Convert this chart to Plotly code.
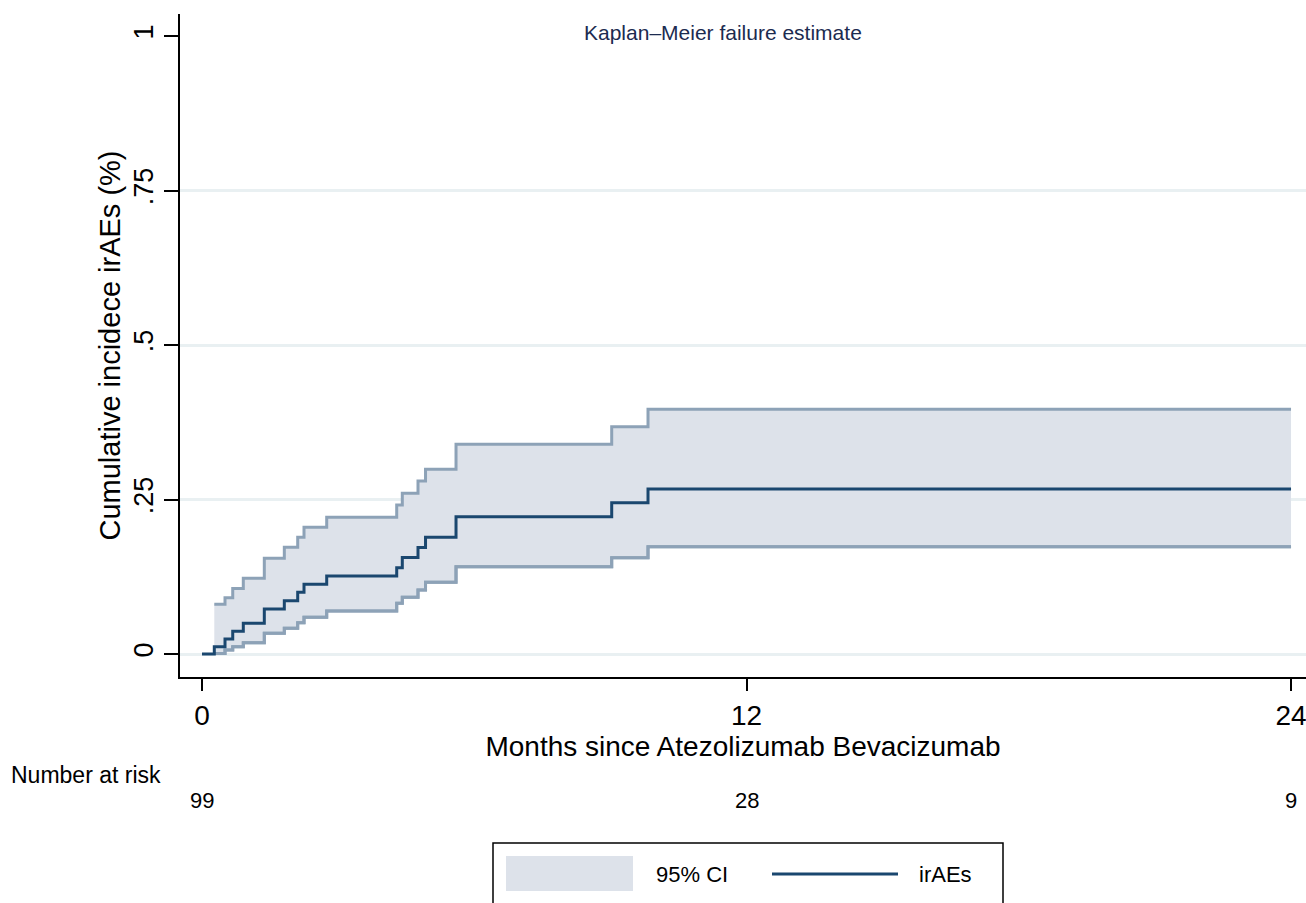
import plotly.graph_objects as go

# ---- data ----
months = [0, 0.271, 0.507, 0.677, 0.910, 1.373, 1.814, 2.109, 2.248, 2.748,
          4.291, 4.414, 4.760, 4.926, 5.598, 9.029, 9.829, 24]
failure = [0, 0.0118, 0.0243, 0.0367, 0.0497, 0.0728, 0.0862, 0.0998, 0.1128,
           0.1262, 0.1396, 0.1561, 0.1723, 0.1888, 0.2222, 0.2448, 0.2670, 0.2670]
ci_months = months[1:]
ci_upper = [0.0804, 0.091, 0.106, 0.1225, 0.1549, 0.1726, 0.1888, 0.205, 0.2212,
            0.2411, 0.26, 0.28, 0.2989, 0.3393, 0.3678, 0.396, 0.396]
ci_lower = [0.001, 0.0065, 0.0118, 0.0183, 0.0335, 0.0416, 0.0507, 0.0594, 0.0696,
            0.082, 0.0917, 0.1036, 0.116, 0.1413, 0.1559, 0.1737, 0.1737]
x_ticks = [0, 12, 24]
y_ticks = [0, 0.25, 0.5, 0.75, 1]
y_tick_text = ["0", ".25", ".5", ".75", "1"]
grid_vals = [0, 0.25, 0.5, 0.75]
risk_months = [0, 12, 24]
risk_counts = [99, 28, 9]

MEAN_C = "#1a476f"
CI_LINE_C = "#8da2b7"
CI_FILL_C = "#dde2ea"
FONT = "Liberation Sans, Arial, sans-serif"

W, H = 1306, 903
L, R, T, B = 180, 0, 14, 226
PW, PH = W - L - R, H - T - B


def px(x):
    return (x - L) / PW


def py(y):
    return (H - B - y) / PH


fig = go.Figure()

# CI band
fig.add_trace(go.Scatter(x=ci_months, y=ci_lower, mode="lines", line_shape="hv",
                         line=dict(color=CI_LINE_C, width=3), showlegend=False,
                         hoverinfo="skip"))
fig.add_trace(go.Scatter(x=ci_months, y=ci_upper, mode="lines", line_shape="hv",
                         fill="tonexty", fillcolor=CI_FILL_C,
                         line=dict(color=CI_LINE_C, width=3), showlegend=False,
                         hoverinfo="skip"))
fig.add_trace(go.Scatter(x=ci_months, y=ci_lower, mode="lines", line_shape="hv",
                         line=dict(color=CI_LINE_C, width=3), showlegend=False,
                         hoverinfo="skip"))
# KM failure curve
fig.add_trace(go.Scatter(x=months, y=failure, mode="lines", line_shape="hv",
                         line=dict(color=MEAN_C, width=3), showlegend=False,
                         name="irAEs"))

fig.update_layout(
    width=W, height=H,
    margin=dict(l=L, r=R, t=T, b=B),
    paper_bgcolor="white", plot_bgcolor="white",
    font=dict(family=FONT, color="black"),
    xaxis=dict(range=[-0.485, 24.33], tickvals=x_ticks,
               ticktext=[str(v) for v in x_ticks],
               showgrid=False, zeroline=False, showline=True,
               linecolor="black", linewidth=2,
               ticks="outside", ticklen=12, tickwidth=2, tickcolor="black",
               tickfont=dict(size=28), ticklabeloverflow="allow",
               title=dict(text="Months since Atezolizumab Bevacizumab",
                          font=dict(size=28), standoff=0)),
    yaxis=dict(range=[-0.0372, 1.0356], tickvals=y_ticks, ticktext=y_tick_text,
               tickangle=-90, showgrid=False, zeroline=False, showline=True,
               linecolor="black", linewidth=2,
               ticks="outside", ticklen=14, tickwidth=2, tickcolor="black",
               tickfont=dict(size=27), ticklabeloverflow="allow",
               title=dict(text="Cumulative incidece irAEs (%)",
                          font=dict(size=29), standoff=0)),
    yaxis2=dict(range=[-0.0372, 1.0356], overlaying="y", tickvals=grid_vals,
                showgrid=True, gridcolor="#e9f0f2", gridwidth=3,
                showticklabels=False, zeroline=False, showline=False,
                layer="below traces"),
)

fig.add_trace(go.Scatter(x=[0], y=[0], yaxis="y2", mode="markers",
                         marker=dict(opacity=0), showlegend=False, hoverinfo="skip"))

ann = []
ann.append(dict(text="Kaplan\u2013Meier failure estimate", x=px(723), y=py(32),
                xref="paper", yref="paper", yanchor="middle", showarrow=False,
                font=dict(size=21, color="#1c2b50")))
ann.append(dict(text="Number at risk", x=px(9), y=py(775), xref="paper", yref="paper",
                xanchor="left", yanchor="middle", showarrow=False, font=dict(size=23)))
for m, c in zip(risk_months, risk_counts):
    ann.append(dict(text=str(c), x=m, y=py(800), xref="x", yref="paper",
                    yanchor="middle", showarrow=False, font=dict(size=22)))
ann.append(dict(text="95% CI", x=px(654), y=py(874), xref="paper", yref="paper",
                xanchor="left", yanchor="middle", showarrow=False, font=dict(size=22)))
ann.append(dict(text="irAEs", x=px(917), y=py(874), xref="paper", yref="paper",
                xanchor="left", yanchor="middle", showarrow=False, font=dict(size=22)))
fig.update_layout(annotations=ann)

shapes = [
    dict(type="rect", xref="paper", yref="paper", x0=px(493), x1=px(1003),
         y0=py(843), y1=py(910), line=dict(color="black", width=1.5),
         fillcolor="rgba(0,0,0,0)"),
    dict(type="rect", xref="paper", yref="paper", x0=px(506), x1=px(633),
         y0=py(856), y1=py(891), line=dict(width=0), fillcolor=CI_FILL_C),
    dict(type="line", xref="paper", yref="paper", x0=px(772), x1=px(898),
         y0=py(874), y1=py(874), line=dict(color=MEAN_C, width=3)),
]
fig.update_layout(shapes=shapes)

fig.write_html("out.html", config={"displayModeBar": False},
               post_script="document.body.style.margin='0px';document.body.style.overflow='hidden';")
